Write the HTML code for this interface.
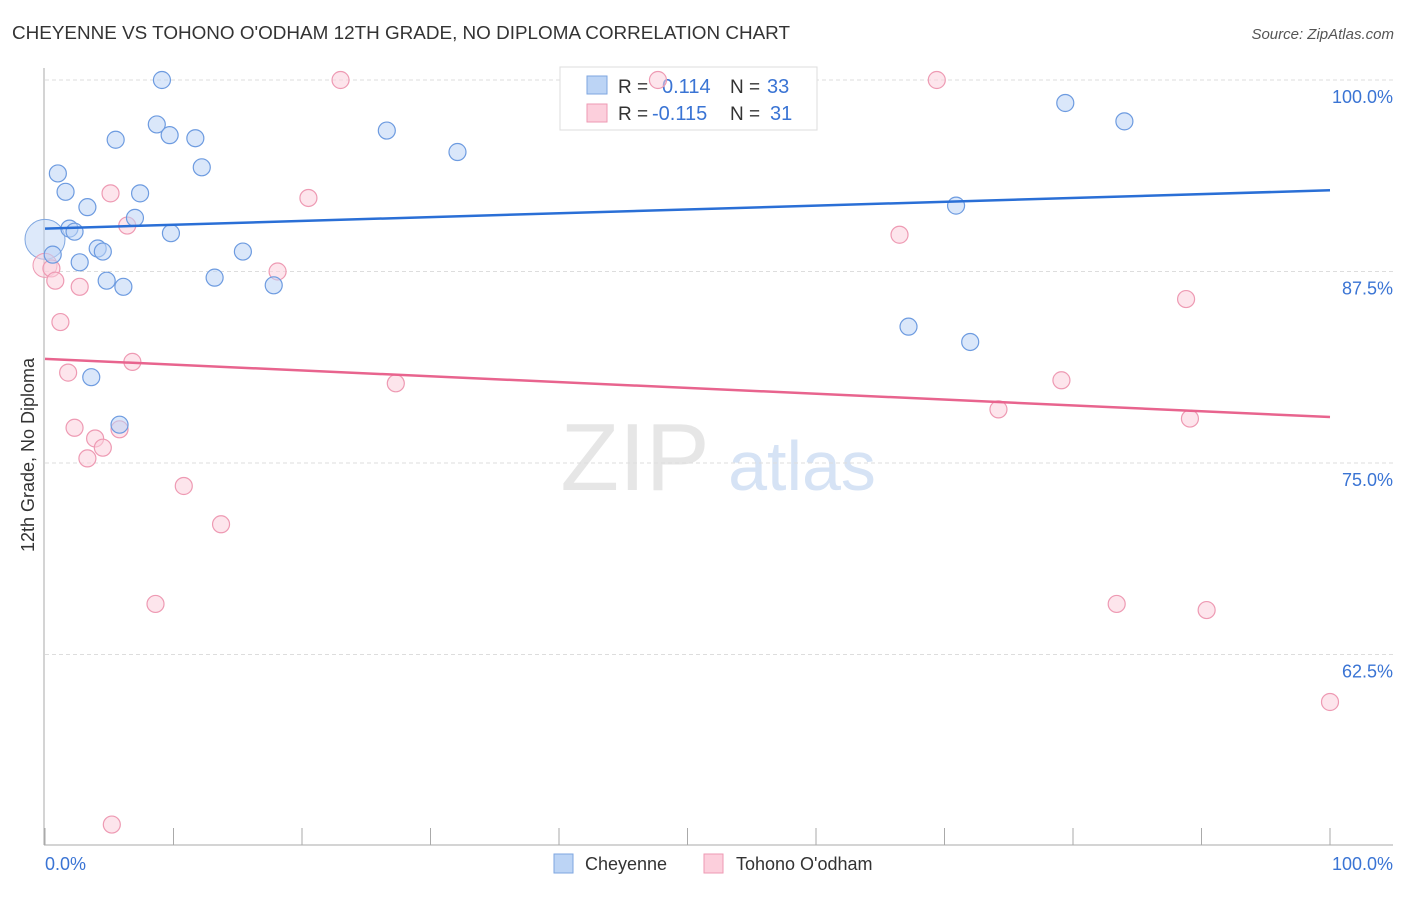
<!DOCTYPE html>
<html><head><meta charset="utf-8"><style>
body{margin:0;background:#fff;font-family:"Liberation Sans",sans-serif;}
svg text{font-family:"Liberation Sans",sans-serif;}
</style></head><body>
<svg id="c" width="1406" height="892">
<text x="12" y="39" font-size="18" fill="#333" textLength="778" lengthAdjust="spacingAndGlyphs">CHEYENNE VS TOHONO O'ODHAM 12TH GRADE, NO DIPLOMA CORRELATION CHART</text>
<text x="1394" y="39" font-size="15" fill="#555" font-style="italic" text-anchor="end">Source: ZipAtlas.com</text>
<text x="0" y="0" transform="translate(34,455) rotate(-90)" font-size="18" fill="#333" text-anchor="middle">12th Grade, No Diploma</text>
<g><text x="635" y="490" font-size="96" fill="#e6e6e6" font-family="Liberation Serif" text-anchor="middle">ZIP</text><text x="802" y="490" font-size="70" fill="#d6e3f5" text-anchor="middle">atlas</text></g>
<g id="grid"></g>
<g>
<rect x="560" y="67" width="257" height="63" fill="#fff" stroke="#ddd"/>
<rect x="587" y="76" width="20" height="18" fill="#bcd4f5" stroke="#7ea6e0"/>
<rect x="587" y="104" width="20" height="18" fill="#fccfdc" stroke="#ee9ab3"/>
<text x="618" y="93" font-size="19" fill="#333">R = </text><text x="662" y="93" font-size="20" fill="#3a74d4">0.114</text>
<text x="730" y="93" font-size="19" fill="#333">N = </text><text x="767" y="93" font-size="20" fill="#3a74d4">33</text>
<text x="618" y="120" font-size="19" fill="#333">R = </text><text x="652" y="120" font-size="20" fill="#3a74d4">-0.115</text>
<text x="730" y="120" font-size="19" fill="#333">N = </text><text x="770" y="120" font-size="20" fill="#3a74d4">31</text>
</g>
<g id="marks"></g>
<g>
<rect x="554" y="854" width="19" height="19" fill="#bcd4f5" stroke="#7ea6e0"/><text x="585" y="870" font-size="18" fill="#333">Cheyenne</text>
<rect x="704" y="854" width="19" height="19" fill="#fccfdc" stroke="#ee9ab3"/><text x="736" y="870" font-size="18" fill="#333">Tohono O'odham</text>
</g>
<text x="45" y="870" font-size="18" fill="#3a74d4">0.0%</text>
<text x="1393" y="870" font-size="18" fill="#3a74d4" text-anchor="end">100.0%</text>
</svg>
<script>
const yTicks=[100,87.5,75,62.5];
const yTickLabels=["100.0%","87.5%","75.0%","62.5%"];
const xTicks=[0,10,20,30,40,50,60,70,80,90,100];
const cheyX=[9.1,8.7,9.7,11.7,5.5,26.6,32.1,12.2,1.0,1.6,7.4,3.3,7.0,1.9,2.3,9.8,4.1,4.5,15.4,0.6,2.7,13.2,4.8,6.1,17.8,3.6,5.8,67.2,72.0,70.9,79.4,84.0];
const cheyY=[100,97.1,96.4,96.2,96.1,96.7,95.3,94.3,93.9,92.7,92.6,91.7,91.0,90.3,90.1,90.0,89.0,88.8,88.8,88.6,88.1,87.1,86.9,86.5,86.6,80.6,77.5,83.9,82.9,91.8,98.5,97.3];
const tohoX=[23.0,47.7,69.4,5.1,20.5,6.4,66.5,0.5,18.1,0.8,2.7,88.8,1.2,6.8,1.8,27.3,79.1,74.2,89.1,2.3,3.9,5.8,4.5,3.3,10.8,13.7,8.6,83.4,90.4,100,5.2];
const tohoY=[100,100,100,92.6,92.3,90.5,89.9,87.7,87.5,86.9,86.5,85.7,84.2,81.6,80.9,80.2,80.4,78.5,77.9,77.3,76.6,77.2,76.0,75.3,73.5,71.0,65.8,65.8,65.4,59.4,51.4];
const cheyTrend=[90.3,92.8];
const tohoTrend=[81.8,78.0];
const NS="http://www.w3.org/2000/svg";
const X=v=>45+v*12.85, Y=v=>80+(100-v)*15.32;
function mk(t,a,p){const e=document.createElementNS(NS,t);for(const k in a)e.setAttribute(k,a[k]);p.appendChild(e);return e;}
const g=document.getElementById('grid'),m=document.getElementById('marks');
yTicks.forEach((t,i)=>{
 const l=mk('line',{x1:45,x2:1393,y1:Y(t),y2:Y(t),stroke:'#ddd','stroke-dasharray':'4,3'},g);
 
 
 const tx=mk('text',{x:1393,y:Y(t)+23,'font-size':18,fill:'#3a74d4','text-anchor':'end'},g);
 tx.textContent=yTickLabels[i];
 
 
});
const ax=mk('line',{x1:44,x2:44,y1:68,y2:845,stroke:'#aaa'},g);


const bx=mk('line',{x1:44,x2:1393,y1:845,y2:845,stroke:'#aaa'},g);


xTicks.forEach(t=>{const l=mk('line',{x1:X(t),x2:X(t),y1:828,y2:845,stroke:'#aaa'},g);
 
 });
function pts(xs,ys,f,s,name){xs.forEach((x,i)=>{const c=mk('circle',{cx:X(x),cy:Y(ys[i]),r:8.5,fill:f,'fill-opacity':0.55,stroke:s,'stroke-width':1.2},m);
 
 });}
const b1=mk('circle',{cx:X(0),cy:Y(89.6),r:20,fill:'#bcd4f5','fill-opacity':0.5,stroke:'#7ea6e0'},m);


const b2=mk('circle',{cx:X(0),cy:Y(87.9),r:12,fill:'#fccfdc','fill-opacity':0.5,stroke:'#ee9ab3'},m);


pts(tohoX,tohoY,'#fccfdc','#ee9ab3','tohono-point');
pts(cheyX,cheyY,'#bcd4f5','#6d9be0','cheyenne-point');
const t1=mk('line',{x1:X(0),x2:X(100),y1:Y(cheyTrend[0]),y2:Y(cheyTrend[1]),stroke:'#2a6fd6','stroke-width':2.5},m);


const t2=mk('line',{x1:X(0),x2:X(100),y1:Y(tohoTrend[0]),y2:Y(tohoTrend[1]),stroke:'#e8648e','stroke-width':2.5},m);


</script>
</body></html>
